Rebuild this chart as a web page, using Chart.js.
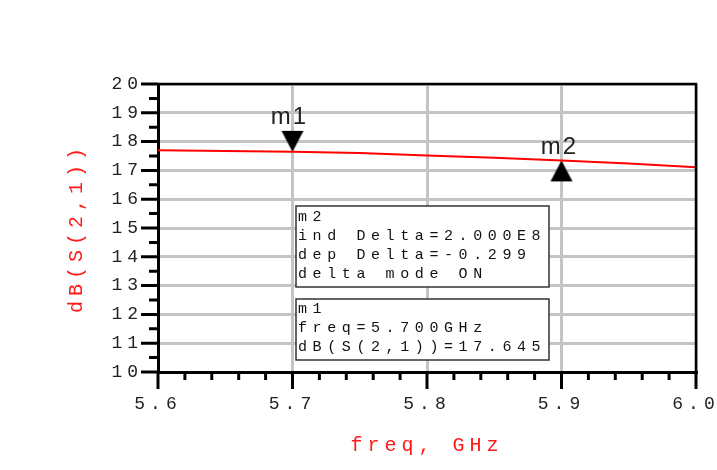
<!DOCTYPE html>
<html><head><meta charset="utf-8">
<script src="https://cdn.jsdelivr.net/npm/chart.js@4"></script>
<style>html,body{margin:0;padding:0;background:#fff;overflow:hidden}</style>
</head><body>
<canvas id="c" width="717" height="470"></canvas>
<script>
// ---- data ----
const freqGHz = [5.60, 5.65, 5.70, 5.75, 5.80, 5.85, 5.90, 5.95, 6.00];
const dbS21   = [17.70, 17.675, 17.645, 17.60, 17.52, 17.44, 17.346, 17.24, 17.11];
const xTickLabels = ['5.6', '5.7', '5.8', '5.9', '6.0'];
const yTickLabels = ['10', '11', '12', '13', '14', '15', '16', '17', '18', '19', '20'];
const markerNames  = ['m1', 'm2'];
const markerFreqs  = [5.7, 5.9];
const markerValues = [17.645, 17.346];
const markerDirs   = ['down', 'up'];
const deltaBoxLines  = ['m2', 'ind Delta=2.000E8', 'dep Delta=-0.299', 'delta mode ON'];
const markerBoxLines = ['m1', 'freq=5.700GHz', 'dB(S(2,1))=17.645'];
const xTitle = 'freq, GHz';
const yTitle = 'dB(S(2,1))';

// ---- triangle marker images (tip at image centre) ----
function triangle(dir) {
  const c = document.createElement('canvas');
  c.width = 24; c.height = 44;
  const g = c.getContext('2d');
  g.fillStyle = '#000';
  g.beginPath();
  if (dir === 'down') { g.moveTo(1, 1); g.lineTo(23, 1); g.lineTo(12, 22); }
  else { g.moveTo(12, 22); g.lineTo(23, 43); g.lineTo(1, 43); }
  g.closePath(); g.fill();
  return c;
}
const markerImgs = markerDirs.map(triangle);

const MONO = "'Liberation Mono', 'DejaVu Sans Mono', monospace";

const decor = {
  id: 'decor',
  beforeDraw(chart) {
    chart.ctx.letterSpacing = '5px';
  },
  afterDatasetsDraw(chart) {
    const ctx = chart.ctx, xs = chart.scales.x, ys = chart.scales.y, a = chart.chartArea;
    ctx.save();
    ctx.letterSpacing = '0px';
    // frame top/right
    ctx.strokeStyle = '#000'; ctx.lineWidth = 2.5;
    ctx.beginPath();
    ctx.moveTo(a.left, a.top); ctx.lineTo(a.right, a.top); ctx.lineTo(a.right, a.bottom);
    ctx.stroke();
    // tick marks
    ctx.lineWidth = 3;
    ctx.beginPath();
    for (let i = 0; i <= 20; i++) {
      const v = ys.min + i * 0.5;
      const p = ys.getPixelForValue(v);
      ctx.moveTo(a.left - (i % 2 === 0 ? 17 : 9), p); ctx.lineTo(a.left, p);
    }
    for (let i = 0; i <= 20; i++) {
      const v = xs.min + i * 0.02;
      const p = xs.getPixelForValue(v);
      ctx.moveTo(p, a.bottom); ctx.lineTo(p, a.bottom + (i % 5 === 0 ? 17 : 8));
    }
    ctx.stroke();
    // marker labels
    ctx.fillStyle = '#222';
    ctx.font = "24px 'Liberation Sans', Arial, sans-serif";
    ctx.letterSpacing = '2px';
    ctx.textAlign = 'center'; ctx.textBaseline = 'middle';
    markerNames.forEach((n, i) => {
      const px = xs.getPixelForValue(markerFreqs[i]);
      const py = ys.getPixelForValue(markerValues[i]);
      if (markerDirs[i] === 'down') ctx.fillText(n, px - 3, py - 34);
      else ctx.fillText(n, px - 2, py - 13);
    });
    // readout boxes
    function box(x0, y0, w, h, lines, firstY, pitch) {
      ctx.fillStyle = '#fff';
      ctx.fillRect(x0, y0, w, h);
      ctx.strokeStyle = '#333'; ctx.lineWidth = 1.5;
      ctx.strokeRect(x0, y0, w, h);
      ctx.fillStyle = '#111';
      ctx.font = '15px ' + MONO;
      ctx.letterSpacing = '5.6px';
      ctx.textAlign = 'left'; ctx.textBaseline = 'middle';
      lines.forEach((t, i) => ctx.fillText(t, x0 + 2, firstY + i * pitch));
    }
    box(296, 206, 253, 81, deltaBoxLines, 217, 19);
    box(296, 299, 253, 61, markerBoxLines, 309, 19);
    ctx.restore();
  },
  afterDraw(chart) { chart.ctx.letterSpacing = '0px'; }
};

new Chart(document.getElementById('c'), {
  type: 'line',
  data: {
    datasets: [
      {
        data: freqGHz.map((f, i) => ({ x: f, y: dbS21[i] })),
        borderColor: '#ff0000', borderWidth: 2, pointRadius: 0, tension: 0, fill: false
      },
      {
        data: markerFreqs.map((f, i) => ({ x: f, y: markerValues[i] })),
        showLine: false, pointRadius: 10,
        pointStyle: (c) => markerImgs[c.dataIndex]
      }
    ]
  },
  options: {
    responsive: false, animation: false, devicePixelRatio: 1,
    layout: { padding: { left: 65, right: 21, top: 84, bottom: 12 } },
    plugins: { legend: { display: false }, tooltip: { enabled: false } },
    scales: {
      x: {
        type: 'linear', min: 5.6, max: 6.0,
        ticks: {
          stepSize: 0.1, autoSkip: false, maxRotation: 0, padding: 21,
          callback: (v, i) => xTickLabels[i],
          font: { family: MONO, size: 18 }, color: '#222'
        },
        grid: { color: '#c4c4c4', lineWidth: 3, drawTicks: false },
        border: { display: true, color: '#000', width: 3 },
        title: { display: true, text: xTitle, color: '#ff1a1a', font: { family: MONO, size: 20 }, padding: 0 },
        afterFit(s) { s.height = 470 - 12 - 372; s.paddingLeft = 0; s.paddingRight = 0; }
      },
      y: {
        min: 10, max: 20,
        ticks: {
          stepSize: 1, padding: 15,
          callback: (v, i) => yTickLabels[i],
          font: { family: MONO, size: 18 }, color: '#222'
        },
        grid: { color: '#c4c4c4', lineWidth: 3, drawTicks: false },
        border: { display: true, color: '#000', width: 3 },
        title: { display: true, text: yTitle, color: '#ff1a1a', font: { family: MONO, size: 20 }, padding: 0 },
        afterFit(s) { s.width = 158 - 65; s.paddingTop = 0; s.paddingBottom = 0; }
      }
    }
  },
  plugins: [decor]
});
</script>
</body></html>
